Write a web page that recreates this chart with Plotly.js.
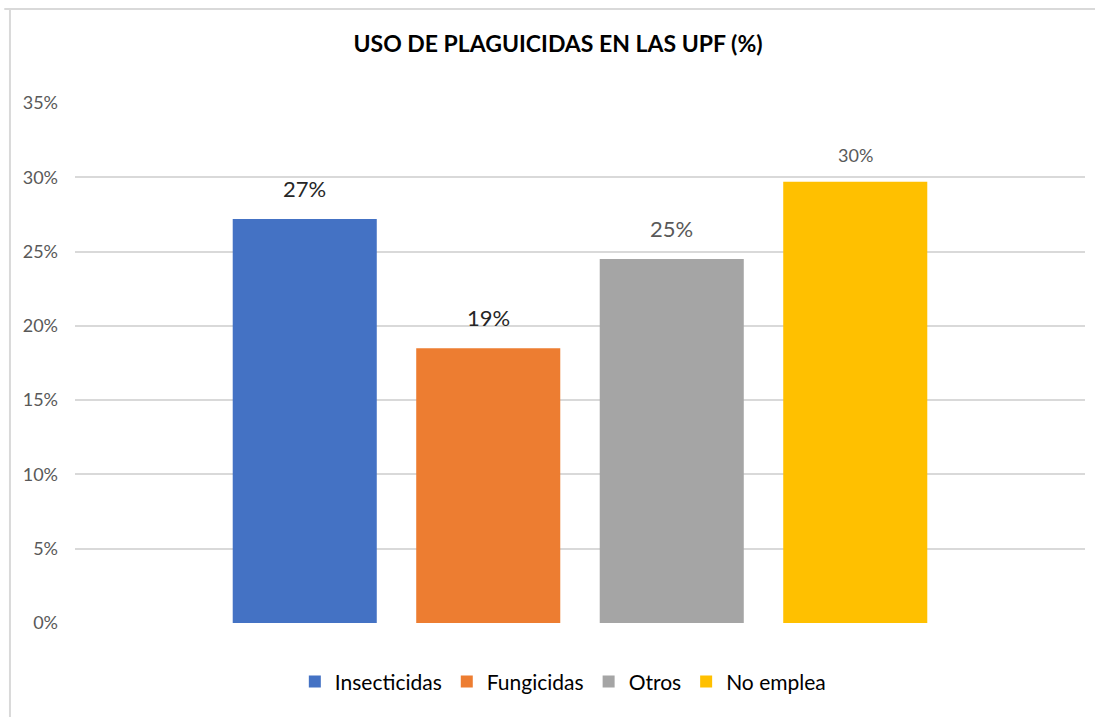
<!DOCTYPE html>
<html>
<head>
<meta charset="utf-8">
<script src="https://cdn.plot.ly/plotly-3.0.1.min.js"></script>
<style>
  html, body { margin: 0; padding: 0; background: #fff; }
  #chart { width: 1095px; height: 717px; }
</style>
</head>
<body>
<div id="chart"></div>
<script>
const categories = ['Insecticidas', 'Fungicidas', 'Otros', 'No emplea'];
const values = [0.272, 0.185, 0.245, 0.297];
const labels = ['27%', '19%', '25%', '30%'];
const colors = ['#4472C4', '#ED7D31', '#A5A5A5', '#FFC000'];
const labelColors = ['#262626', '#262626', '#595959', '#595959'];
const labelSizes = [22, 22, 22, 18];
const labelShifts = [15, 15, 15, 14];
const yTicks = [0, 0.05, 0.10, 0.15, 0.20, 0.25, 0.30, 0.35];
const yTickText = ['0%', '5%', '10%', '15%', '20%', '25%', '30%', '35%'];

const FONT = 'Lato, "Open Sans", sans-serif';

const traces = categories.map((c, i) => ({
  type: 'bar',
  name: c,
  x: [c],
  y: [values[i]],
  width: 0.785,
  marker: { color: colors[i] },
  hoverinfo: 'name+y'
}));

const annotations = categories.map((c, i) => ({
  x: c, y: values[i], xref: 'x', yref: 'y',
  text: labels[i], showarrow: false,
  yanchor: 'bottom', yshift: labelShifts[i],
  font: { family: FONT, size: labelSizes[i], color: labelColors[i] }
}));

const layout = {
  width: 1095, height: 717,
  margin: { l: 75, r: 10, t: 103, b: 94 },
  paper_bgcolor: '#ffffff',
  plot_bgcolor: '#ffffff',
  barmode: 'overlay',
  title: {
    text: '<b>USO DE PLAGUICIDAS EN LAS UPF (%)</b>',
    x: 0.5096, xref: 'container', xanchor: 'center',
    y: 55, yref: 'container',
    font: { family: FONT, size: 23, color: '#000000' }
  },
  xaxis: {
    type: 'category',
    categoryarray: categories,
    range: [-1.252, 4.252],
    showticklabels: false,
    showgrid: false,
    zeroline: false,
    showline: false,
    ticks: ''
  },
  yaxis: {
    range: [0, 0.35],
    tickvals: yTicks,
    ticktext: yTickText,
    tickfont: { family: FONT, size: 18, color: '#595959' },
    showgrid: true,
    gridcolor: '#D9D9D9',
    gridwidth: 2,
    zeroline: false,
    showline: false,
    ticks: '',
    ticklabelstandoff: 16
  },
  showlegend: true,
  legend: {
    orientation: 'h',
    x: 0.483, xanchor: 'center', xref: 'paper',
    y: -0.113, yanchor: 'middle',
    font: { family: FONT, size: 21, color: '#000000' },
    itemwidth: 30,
    traceorder: 'normal'
  },
  annotations: annotations,
  shapes: [
    { type: 'line', xref: 'paper', yref: 'paper', x0: -0.0644, x1: -0.0644, y0: -0.19, y1: 1.1808, line: { color: '#D9D9D9', width: 2 } },
    { type: 'line', xref: 'paper', yref: 'paper', x0: -0.07, x1: 1.01, y0: 1.1808, y1: 1.1808, line: { color: '#D9D9D9', width: 2 } }
  ]
};

Plotly.newPlot('chart', traces, layout, { displayModeBar: false, staticPlot: true });
</script>
</body>
</html>
